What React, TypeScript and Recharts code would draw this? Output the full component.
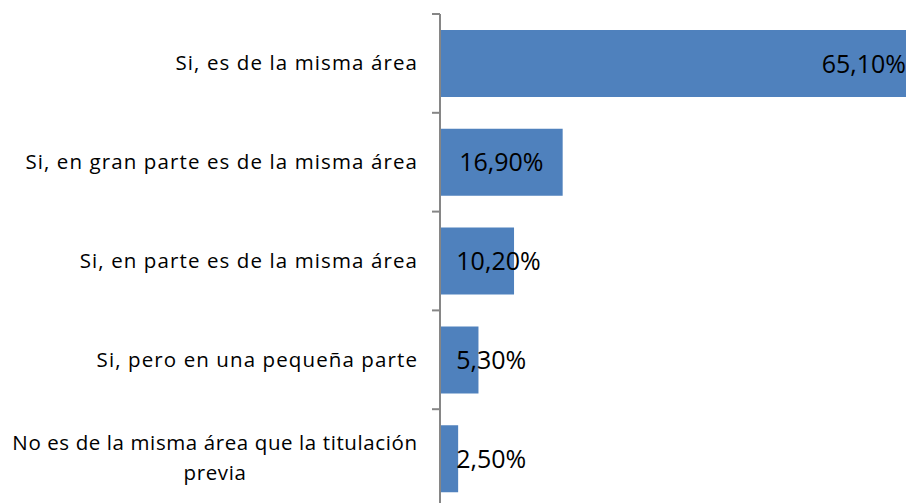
import React from 'react';
import { BarChart, Bar, XAxis, YAxis, LabelList } from 'recharts';

const categories = [
    'Si, es de la misma área',
    'Si, en gran parte es de la misma área',
    'Si, en parte es de la misma área',
    'Si, pero en una pequeña parte',
    'No es de la misma área que la titulación previa',
];
const values = [65.1, 16.9, 10.2, 5.3, 2.5];

const data = categories.map((name, i) => ({ name, value: values[i] }));

const fmt = (v: number) => v.toFixed(2).replace('.', ',') + '%';

const FONT = '"Open Sans", sans-serif';
const AXIS = '#868686';

// label text with wrapping like Excel, plus a tick between categories
const CategoryTick = (props: any) => {
    const { x, y, payload } = props;
    const band = 98.8;
    const text: string = payload.value;
    const lines = text.length > 40
        ? ['No es de la misma área que la titulación', 'previa']
        : [text];
    return (
        <g>
            <line x1={432} x2={440} y1={y - band / 2} y2={y - band / 2} stroke={AXIS} strokeWidth={2} />
            {lines.length === 1 ? (
                <text x={x - 14} y={y} dy={7} textAnchor="end" fill="#000" fontSize={20.5} letterSpacing={1.1} fontFamily={FONT}>
                    {lines[0]}
                </text>
            ) : (
                <text x={215} y={y} textAnchor="middle" fill="#000" fontSize={20.5} letterSpacing={0.6} fontFamily={FONT}>
                    <tspan x={215} dy={-9}>{lines[0]}</tspan>
                    <tspan x={215} dy={30}>{lines[1]}</tspan>
                </text>
            )}
        </g>
    );
};

const ValueLabel = (props: any) => {
    const { x, y, width, height, value, index } = props;
    const label = fmt(value);
    const cy = y + height / 2 + 9;
    if (index === 0) {
        // the longest bar runs past the edge of the frame
        return (
            <text x={Math.min(x + width, 906)} y={cy} textAnchor="end" fill="#000" fontSize={25} fontFamily={FONT}>
                {label}
            </text>
        );
    }
    const textW = label.length * 14.5;
    const cx = Math.max(x + width / 2, x + 15 + textW / 2);
    return (
        <text x={cx} y={cy} textAnchor="middle" fill="#000" fontSize={25} fontFamily={FONT}>
            {label}
        </text>
    );
};

export default function App() {
    return (
        <div style={{ position: 'absolute', left: 0, top: 0, width: 907, height: 503, background: 'white' }}>
            <BarChart
                width={907}
                height={503}
                data={data}
                layout="vertical"
                barCategoryGap={16}
                margin={{ top: 14, right: 1, bottom: -5, left: 0 }}
            >
                <XAxis type="number" domain={[0, 64.2]} allowDataOverflow hide />
                <YAxis
                    type="category"
                    dataKey="name"
                    width={440}
                    axisLine={{ stroke: AXIS, strokeWidth: 2 }}
                    tickLine={false}
                    tick={<CategoryTick />}
                    interval={0}
                />
                <Bar dataKey="value" fill="#4F81BD" barSize={67} isAnimationActive={false}>
                    <LabelList dataKey="value" content={<ValueLabel />} />
                </Bar>
            </BarChart>
        </div>
    );
}
